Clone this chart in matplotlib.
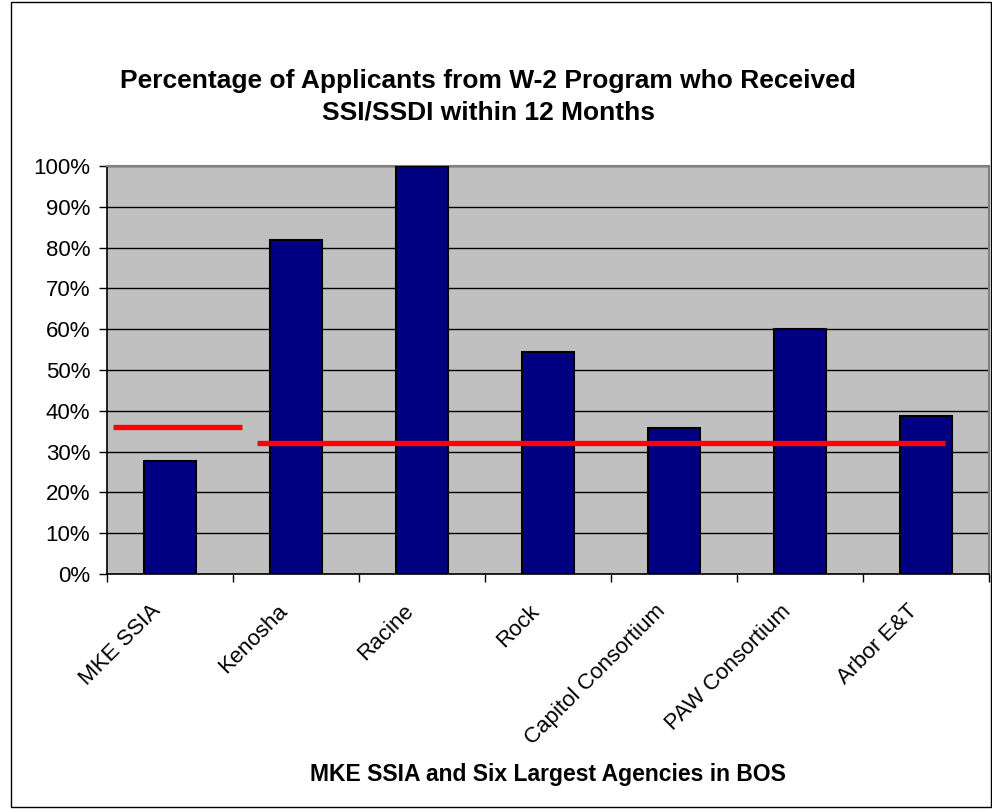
#!/usr/bin/env python3

import matplotlib.pyplot as plt
import matplotlib.transforms as mtransforms
import numpy as np
from matplotlib.patches import Rectangle

plt.rcParams['font.family'] = ['Liberation Sans', 'DejaVu Sans']

# Data
agencies = ["MKE SSIA", "Kenosha", "Racine", "Rock", "Capitol Consortium",
            "PAW Consortium", "Arbor E&T"]
pct_received = [27.7, 81.8, 100.0, 54.5, 35.8, 60.0, 38.8]
mke_avg = 36.1
bos_avg = 32.2

x = np.arange(len(agencies))

fig = plt.figure(figsize=(9.92, 8.09), dpi=100)
ax = fig.add_axes([107 / 992, 1 - 574 / 809, 882 / 992, 408 / 809])

ax.set_facecolor('#c0c0c0')
ax.bar(x, pct_received, width=0.42, color='#000080', edgecolor='black',
       linewidth=1.5, zorder=3)

# average lines
ax.plot([-0.45, 0.57], [mke_avg, mke_avg], color='#ff0000', linewidth=3.8,
        solid_capstyle='butt', zorder=4)
ax.plot([0.69, 6.15], [bos_avg, bos_avg], color='#ff0000', linewidth=3.8,
        solid_capstyle='butt', zorder=4)

ax.set_xlim(-0.5, len(agencies) - 0.5)
ax.set_ylim(0, 100)
ax.set_yticks(np.arange(0, 101, 10))
ax.set_yticklabels(["%d%%" % v for v in range(0, 101, 10)], fontsize=16)
ax.yaxis.grid(True, color='black', linewidth=1, zorder=1)
ax.set_axisbelow(True)

# category boundary ticks; labels drawn as text under each category centre
ax.set_xticks(np.arange(-0.5, len(agencies), 1.0))
ax.set_xticklabels([])
ax.tick_params(axis='x', which='major', length=6, width=1, direction='out')
ax.tick_params(axis='y', length=6, width=1, direction='out', pad=6)

shift = mtransforms.ScaledTranslation(-12 / 100, -34 / 100, fig.dpi_scale_trans)
for i, name in enumerate(agencies):
    ax.text(x[i], 0, name, transform=ax.get_xaxis_transform() + shift,
            rotation=45, rotation_mode='anchor', ha='right', va='center',
            fontsize=16)

for side in ['top', 'right']:
    ax.spines[side].set_color('#808080')
    ax.spines[side].set_linewidth(1.5)
for side in ['left', 'bottom']:
    ax.spines[side].set_color('black')
    ax.spines[side].set_linewidth(1.2)

fig.text(488 / 992, 1 - 97 / 809,
         "Percentage of Applicants from W-2 Program who Received\n"
         "SSI/SSDI within 12 Months",
         ha='center', va='center', fontsize=19, fontweight='bold',
         linespacing=1.4)
fig.text(548 / 992, 1 - 775 / 809, "MKE SSIA and Six Largest Agencies in BOS",
         ha='center', va='center', fontsize=16.5, fontweight='bold')

# outer chart border
fig.patches.append(Rectangle((11 / 992, 2 / 809), 980 / 992, 805 / 809,
                             transform=fig.transFigure, fill=False,
                             edgecolor='black', linewidth=1))

fig.savefig("out.png", dpi=100)
